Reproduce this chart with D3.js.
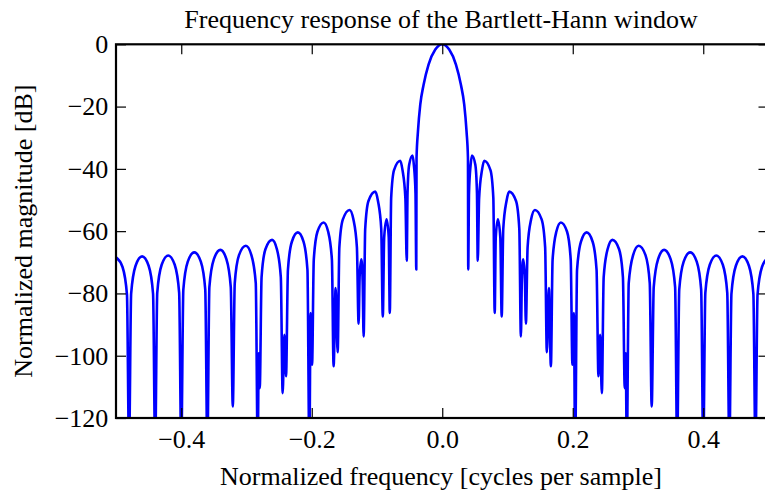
<!DOCTYPE html>
<html>
<head>
<meta charset="utf-8">
<script src="https://cdn.jsdelivr.net/npm/d3@7"></script>
<style>
  html, body { margin: 0; padding: 0; background: #ffffff; }
  svg { display: block; }
  text { font-family: "Liberation Serif", "DejaVu Serif", serif; fill: #000; }
</style>
</head>
<body>
<svg id="chart" width="765" height="491"></svg>
<script>
// ---- data ----
const chartTitle = "Frequency response of the Bartlett-Hann window";
const xLabel = "Normalized frequency [cycles per sample]";
const yLabel = "Normalized magnitude [dB]";
const xDomain = [-0.5, 0.5];
const yDomain = [-120, 0];
const xTicks = [-0.4, -0.2, 0.0, 0.2, 0.4];
const yTicks = [0, -20, -40, -60, -80, -100, -120];

// [normalized frequency, magnitude in dB] (values below -120 are clipped by the axes)
const responseDb = [
  [-0.500, -68.4], [-0.490, -71.5], [-0.4832, -80.4], [-0.480, -130],
  [-0.4768, -80.1], [-0.470, -71.1], [-0.460, -68.1], [-0.450, -71.1], [-0.4432, -80.1], [-0.440, -130],
  [-0.4368, -79.8], [-0.430, -70.8], [-0.420, -67.8], [-0.410, -70.8], [-0.4032, -79.8], [-0.400, -130],
  [-0.3968, -78.8], [-0.390, -69.8], [-0.380, -66.8], [-0.370, -69.8], [-0.3632, -78.8], [-0.360, -130],
  [-0.3569, -78.0], [-0.350, -69.0], [-0.340, -66.0], [-0.3308, -69.0], [-0.3241, -78.0], [-0.321, -116.3],
  [-0.318, -76.7], [-0.3115, -67.7], [-0.301, -64.7], [-0.2925, -67.7], [-0.2858, -76.7], [-0.2828, -130],
  [-0.2812, -99.2], [-0.2797, -110.4],
  [-0.2769, -74.8], [-0.2710, -65.8], [-0.2608, -62.8], [-0.2534, -65.8], [-0.2474, -74.8], [-0.2446, -112.0],
  [-0.2420, -93.3], [-0.2394, -106.6],
  [-0.2365, -72.4], [-0.2305, -63.4], [-0.2213, -60.4], [-0.2126, -63.4], [-0.2066, -72.4], [-0.2037, -130],
  [-0.2017, -86.3], [-0.1995, -102.9],
  [-0.1969, -69.2], [-0.1913, -60.2], [-0.1818, -57.2], [-0.1748, -60.2], [-0.1691, -69.2], [-0.1665, -103.4],
  [-0.1634, -78.3], [-0.1603, -98.9],
  [-0.1577, -65.2], [-0.1523, -56.2], [-0.1420, -53.2], [-0.1362, -56.2], [-0.1308, -65.2], [-0.1282, -89.7],
  [-0.1265, -74.0], [-0.1240, -69.0], [-0.1220, -76.0], [-0.1205, -93.8],
  [-0.1181, -59.3], [-0.1131, -50.3], [-0.1026, -47.3], [-0.0985, -50.3], [-0.0935, -59.3], [-0.0911, -87.4],
  [-0.0890, -62.0], [-0.0853, -56.2], [-0.0820, -62.0], [-0.0804, -86.3],
  [-0.0783, -49.4], [-0.0739, -40.4], [-0.0643, -37.4], [-0.0609, -40.4], [-0.0565, -49.4], [-0.0544, -69.5],
  [-0.0532, -47.7], [-0.0507, -38.7], [-0.0455, -35.7], [-0.0435, -38.7], [-0.0410, -47.7], [-0.0398, -72.3],
  [-0.0394, -36.5], [-0.0372, -27.9], [-0.0337, -19.4], [-0.0286, -13.0], [-0.0210, -6.5], [-0.0107, -1.7],
  [0.000, 0.0],
  [0.0107, -1.7], [0.0210, -6.5], [0.0286, -13.0], [0.0337, -19.4], [0.0372, -27.9], [0.0394, -36.5], [0.0398, -72.3],
  [0.0410, -47.7], [0.0435, -38.7], [0.0455, -35.7], [0.0507, -38.7], [0.0532, -47.7], [0.0544, -69.5],
  [0.0565, -49.4], [0.0609, -40.4], [0.0643, -37.4], [0.0739, -40.4], [0.0783, -49.4], [0.0804, -86.3],
  [0.0820, -62.0], [0.0853, -56.2], [0.0890, -62.0], [0.0911, -87.4],
  [0.0935, -59.3], [0.0985, -50.3], [0.1026, -47.3], [0.1131, -50.3], [0.1181, -59.3], [0.1205, -93.8],
  [0.1220, -76.0], [0.1240, -69.0], [0.1265, -74.0], [0.1282, -89.7],
  [0.1308, -65.2], [0.1362, -56.2], [0.1420, -53.2], [0.1523, -56.2], [0.1577, -65.2], [0.1603, -98.9],
  [0.1634, -78.3], [0.1665, -103.4],
  [0.1691, -69.2], [0.1748, -60.2], [0.1818, -57.2], [0.1913, -60.2], [0.1969, -69.2], [0.1995, -102.9],
  [0.2017, -86.3], [0.2037, -130],
  [0.2066, -72.4], [0.2126, -63.4], [0.2213, -60.4], [0.2305, -63.4], [0.2365, -72.4], [0.2394, -106.6],
  [0.2420, -93.3], [0.2446, -112.0],
  [0.2474, -74.8], [0.2534, -65.8], [0.2608, -62.8], [0.2710, -65.8], [0.2769, -74.8], [0.2797, -110.4],
  [0.2812, -99.2], [0.2828, -130],
  [0.2858, -76.7], [0.2925, -67.7], [0.301, -64.7], [0.3115, -67.7], [0.318, -76.7], [0.321, -116.3],
  [0.3241, -78.0], [0.3308, -69.0], [0.340, -66.0], [0.350, -69.0], [0.3569, -78.0], [0.360, -130],
  [0.3632, -78.8], [0.370, -69.8], [0.380, -66.8], [0.390, -69.8], [0.3968, -78.8], [0.400, -130],
  [0.4032, -79.8], [0.410, -70.8], [0.420, -67.8], [0.430, -70.8], [0.4368, -79.8], [0.440, -130],
  [0.4432, -80.1], [0.450, -71.1], [0.460, -68.1], [0.470, -71.1], [0.4768, -80.1], [0.480, -130],
  [0.4832, -80.4], [0.490, -71.5], [0.500, -68.4]
];

// ---- layout ----
const plot = { left: 116, right: 768.5, top: 44.3, bottom: 418 };
const fontSize = 26;
const svg = d3.select("#chart");

const x = d3.scaleLinear().domain(xDomain).range([plot.left, plot.right]);
const y = d3.scaleLinear().domain(yDomain).range([plot.bottom, plot.top]);

svg.append("defs").append("clipPath").attr("id", "plotClip")
  .append("rect")
  .attr("x", plot.left).attr("y", plot.top)
  .attr("width", plot.right - plot.left).attr("height", plot.bottom - plot.top);

const line = d3.line()
  .x(d => x(d[0]))
  .y(d => y(d[1]))
  .curve(d3.curveMonotoneX);

svg.append("path")
  .datum(responseDb)
  .attr("clip-path", "url(#plotClip)")
  .attr("d", line)
  .attr("fill", "none")
  .attr("stroke", "#0000ff")
  .attr("stroke-width", 2.6)
  .attr("stroke-linejoin", "round");

const fmtX = v => (v < 0 ? "\u2212" : "") + Math.abs(v).toFixed(1);
const fmtY = v => (v < 0 ? "\u2212" : "") + Math.abs(v);
const tickLen = 10;

// bottom & top axes (ticks point inward)
const xAxisBottom = d3.axisBottom(x).tickValues(xTicks).tickSizeInner(-tickLen).tickSizeOuter(0)
  .tickFormat(fmtX);
const gxb = svg.append("g").attr("transform", `translate(0,${plot.bottom})`).call(xAxisBottom);
gxb.selectAll(".tick text").attr("y", 30.3).attr("dy", 0);

const xAxisTop = d3.axisTop(x).tickValues(xTicks).tickSizeInner(-tickLen).tickSizeOuter(0).tickFormat("");
const gxt = svg.append("g").attr("transform", `translate(0,${plot.top})`).call(xAxisTop);

// left & right axes
const yAxisLeft = d3.axisLeft(y).tickValues(yTicks).tickSizeInner(-tickLen).tickSizeOuter(0)
  .tickPadding(7.7).tickFormat(fmtY);
const gyl = svg.append("g").attr("transform", `translate(${plot.left},0)`).call(yAxisLeft);
const yAxisRight = d3.axisRight(y).tickValues(yTicks).tickSizeInner(-tickLen).tickSizeOuter(0).tickFormat("");
const gyr = svg.append("g").attr("transform", `translate(${plot.right},0)`).call(yAxisRight);

[gxb, gxt, gyl, gyr].forEach(g => {
  g.select(".domain").remove();
  g.selectAll(".tick line").attr("stroke", "#000").attr("stroke-width", 1.2);
  g.selectAll(".tick text")
    .attr("font-size", fontSize)
    .attr("fill", "#000");
});

// spines
svg.append("rect")
  .attr("x", plot.left).attr("y", plot.top)
  .attr("width", plot.right - plot.left).attr("height", plot.bottom - plot.top)
  .attr("fill", "none").attr("stroke", "#000").attr("stroke-width", 2.2);

// title & axis labels
svg.append("text")
  .attr("x", 441)
  .attr("y", 27.5)
  .attr("text-anchor", "middle")
  .attr("font-size", fontSize)
  .text(chartTitle);

svg.append("text")
  .attr("x", 441)
  .attr("y", 485)
  .attr("text-anchor", "middle")
  .attr("font-size", fontSize)
  .text(xLabel);

svg.append("text")
  .attr("transform", `translate(32,${(plot.top + plot.bottom) / 2}) rotate(-90)`)
  .attr("text-anchor", "middle")
  .attr("font-size", fontSize)
  .text(yLabel);
</script>
</body>
</html>
